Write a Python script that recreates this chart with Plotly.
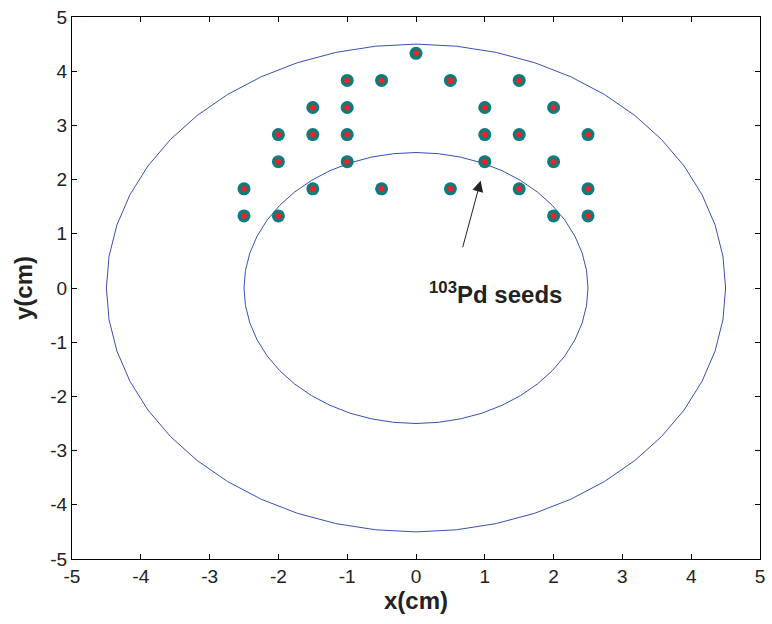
import numpy as np
import plotly.graph_objects as go

# Seed positions (cm)
seed_x = [0,
          -1, -0.5, 0.5, 1.5,
          -1.5, -1, 1, 2,
          -2, -1.5, -1, 1, 1.5, 2.5,
          -2, -1, 1, 2,
          -2.5, -1.5, -0.5, 0.5, 1.5, 2.5,
          -2.5, -2, 2, 2.5]
seed_y = [4.33,
          3.83, 3.83, 3.83, 3.83,
          3.33, 3.33, 3.33, 3.33,
          2.83, 2.83, 2.83, 2.83, 2.83, 2.83,
          2.33, 2.33, 2.33, 2.33,
          1.83, 1.83, 1.83, 1.83, 1.83, 1.83,
          1.33, 1.33, 1.33, 1.33]

# Contour radii (cm)
radii = [4.5, 2.5]
n_pts = 49

ticks = [-5, -4, -3, -2, -1, 0, 1, 2, 3, 4, 5]

FONT = "Liberation Sans, Arial"
TXT = "#222222"

fig = go.Figure()

theta = np.linspace(0, 2 * np.pi, n_pts)
for r in radii:
    fig.add_trace(go.Scatter(
        x=r * np.cos(theta), y=r * np.sin(theta), mode="lines",
        line=dict(color="#3850B0", width=1), hoverinfo="skip"))

fig.add_trace(go.Scatter(
    x=seed_x, y=seed_y, mode="markers",
    marker=dict(size=13, color="#0A7C7C", line=dict(width=0))))
fig.add_trace(go.Scatter(
    x=seed_x, y=seed_y, mode="markers",
    marker=dict(size=6, color="#EE2228", line=dict(width=0))))

fig.add_annotation(
    x=0.94, y=1.98, ax=0.64, ay=0.57, xref="x", yref="y", axref="x", ayref="y",
    text=" ", showarrow=True, arrowhead=2, arrowsize=2.2, arrowwidth=1,
    arrowcolor=TXT)
fig.add_annotation(
    x=1.15, y=-0.1, xref="x", yref="y", showarrow=False,
    text="<b><sup>103</sup>Pd seeds</b>",
    font=dict(family=FONT, size=24, color=TXT))

axis_common = dict(
    range=[-5, 5], tickvals=ticks, ticktext=[str(t) for t in ticks],
    ticks="inside", ticklen=5, tickcolor="black", mirror="ticks",
    showline=True, linecolor="black", linewidth=1, showgrid=False,
    zeroline=False, tickfont=dict(family=FONT, size=19, color=TXT))

fig.update_xaxes(**axis_common, title=dict(
    text="<b>x(cm)</b>", font=dict(family=FONT, size=24, color=TXT),
    standoff=3))
fig.update_yaxes(**axis_common, title=dict(
    text="<b>y(cm)</b>", font=dict(family=FONT, size=24, color=TXT),
    standoff=10))

fig.update_layout(
    width=772, height=624, showlegend=False,
    paper_bgcolor="white", plot_bgcolor="white",
    margin=dict(l=72, r=7, t=14, b=65))

fig.write_html("out.html")
